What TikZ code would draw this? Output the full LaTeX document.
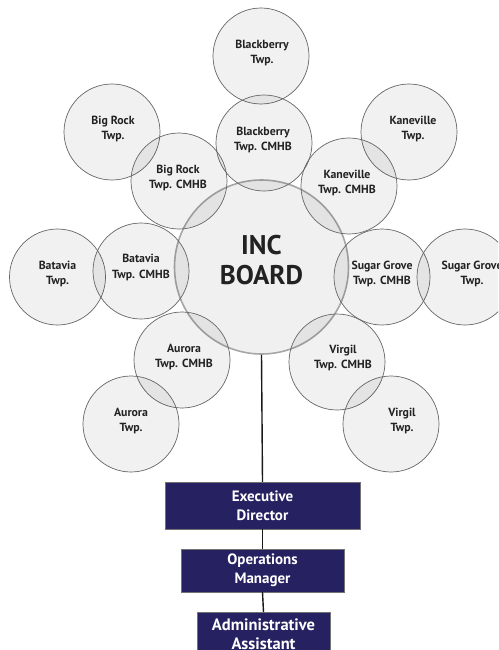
\documentclass[tikz,border=0pt]{standalone}
\usepackage{fontspec}
\setmainfont{PT Sans}
\definecolor{navy}{HTML}{262262}
\definecolor{txt}{HTML}{222222}
\tikzset{
  bub/.style={circle, minimum size=96pt, inner sep=0pt, draw=black!60, line width=0.7pt,
    fill=black, fill opacity=0.055},
  lbl/.style={inner sep=0pt, text=txt, align=center, font=\bfseries\fontsize{11.8}{15.5}\selectfont},
  board/.style={circle, minimum size=174pt, inner sep=0pt, draw=black!35, line width=1.6pt,
    fill=black, fill opacity=0.06},
  blbl/.style={inner sep=0pt, text=txt, align=center, font=\bfseries\fontsize{27}{30}\selectfont},
  staff/.style={draw=black!55, fill=navy, text=white, align=center, inner sep=0pt,
    font=\bfseries\fontsize{15}{19}\selectfont},
  link/.style={draw=black!90, line width=1.4pt}
}
\begin{document}
\begin{tikzpicture}[x=1pt,y=-1pt]
\useasboundingbox (0,0) rectangle (498,650);
\clip (0,0) rectangle (498,650);
\node[board] (inc) at (261.5,267) {};
\node[bub] (bbt) at (261,56) {};
\node[bub] (brt) at (112,132) {};
\node[bub] (kvt) at (409,132) {};
\node[bub] (bbc) at (264,143) {};
\node[bub] (brc) at (179,181) {};
\node[bub] (kvc) at (349,186) {};
\node[bub] (bat) at (57.5,277) {};
\node[bub] (bac) at (141,271) {};
\node[bub] (sgc) at (382,277) {};
\node[bub] (sgt) at (465,277) {};
\node[bub] (auc) at (182,360) {};
\node[bub] (vic) at (337,362) {};
\node[bub] (aut) at (131,424) {};
\node[bub] (vit) at (391,424) {};
\node[blbl] (tinc) at ([yshift=7pt]inc.center) {INC\\BOARD};
\node[lbl] (tbbt) at ([xshift=1pt,yshift=3pt]bbt.center) {Blackberry\\Twp.};
\node[lbl] (tbrt) at ([xshift=1pt,yshift=3pt]brt.center) {Big Rock\\Twp.};
\node[lbl] (tkvt) at ([xshift=4pt,yshift=3pt]kvt.center) {Kaneville\\Twp.};
\node[lbl] (tbbc) at ([xshift=-1pt,yshift=3pt]bbc.center) {Blackberry\\Twp. CMHB};
\node[lbl] (tbrc) at ([xshift=-1pt,yshift=3pt]brc.center) {Big Rock\\Twp. CMHB};
\node[lbl] (tkvc) at ([xshift=-2pt,yshift=3pt]kvc.center) {Kaneville\\Twp. CMHB};
\node[lbl] (tbat) at ([yshift=3pt]bat.center) {Batavia\\Twp.};
\node[lbl] (tbac) at ([yshift=3.5pt]bac.center) {Batavia\\Twp. CMHB};
\node[lbl] (tsgc) at ([yshift=3pt]sgc.center) {Sugar Grove\\Twp. CMHB};
\node[lbl] (tsgt) at ([xshift=7pt,yshift=3pt]sgt.center) {Sugar Grove\\Twp.};
\node[lbl] (tauc) at ([xshift=2pt,yshift=3pt]auc.center) {Aurora\\Twp. CMHB};
\node[lbl] (tvic) at ([xshift=6pt,yshift=4pt]vic.center) {Virgil\\Twp. CMHB};
\node[lbl] (taut) at ([yshift=3pt]aut.center) {Aurora\\Twp.};
\node[lbl] (tvit) at ([xshift=11pt,yshift=3pt]vit.center) {Virgil\\Twp.};
\node[staff, minimum width=195pt, minimum height=47pt] (ed) at (262.5,505.5) {Executive\\Director};
\node[staff, minimum width=163pt, minimum height=43pt] (om) at (262.5,570.5) {Operations\\Manager};
\node[staff, minimum width=133pt, minimum height=44pt, anchor=north,
  font=\bfseries\fontsize{16.5}{19}\selectfont] (aa) at (263.5,612) {Administrative\\Assistant};
\draw[link] (inc.south) -- (ed.north);
\draw[link] (ed.south) -- (om.north);
\draw[link] (om.south) -- (aa.north);
\end{tikzpicture}
\end{document}
